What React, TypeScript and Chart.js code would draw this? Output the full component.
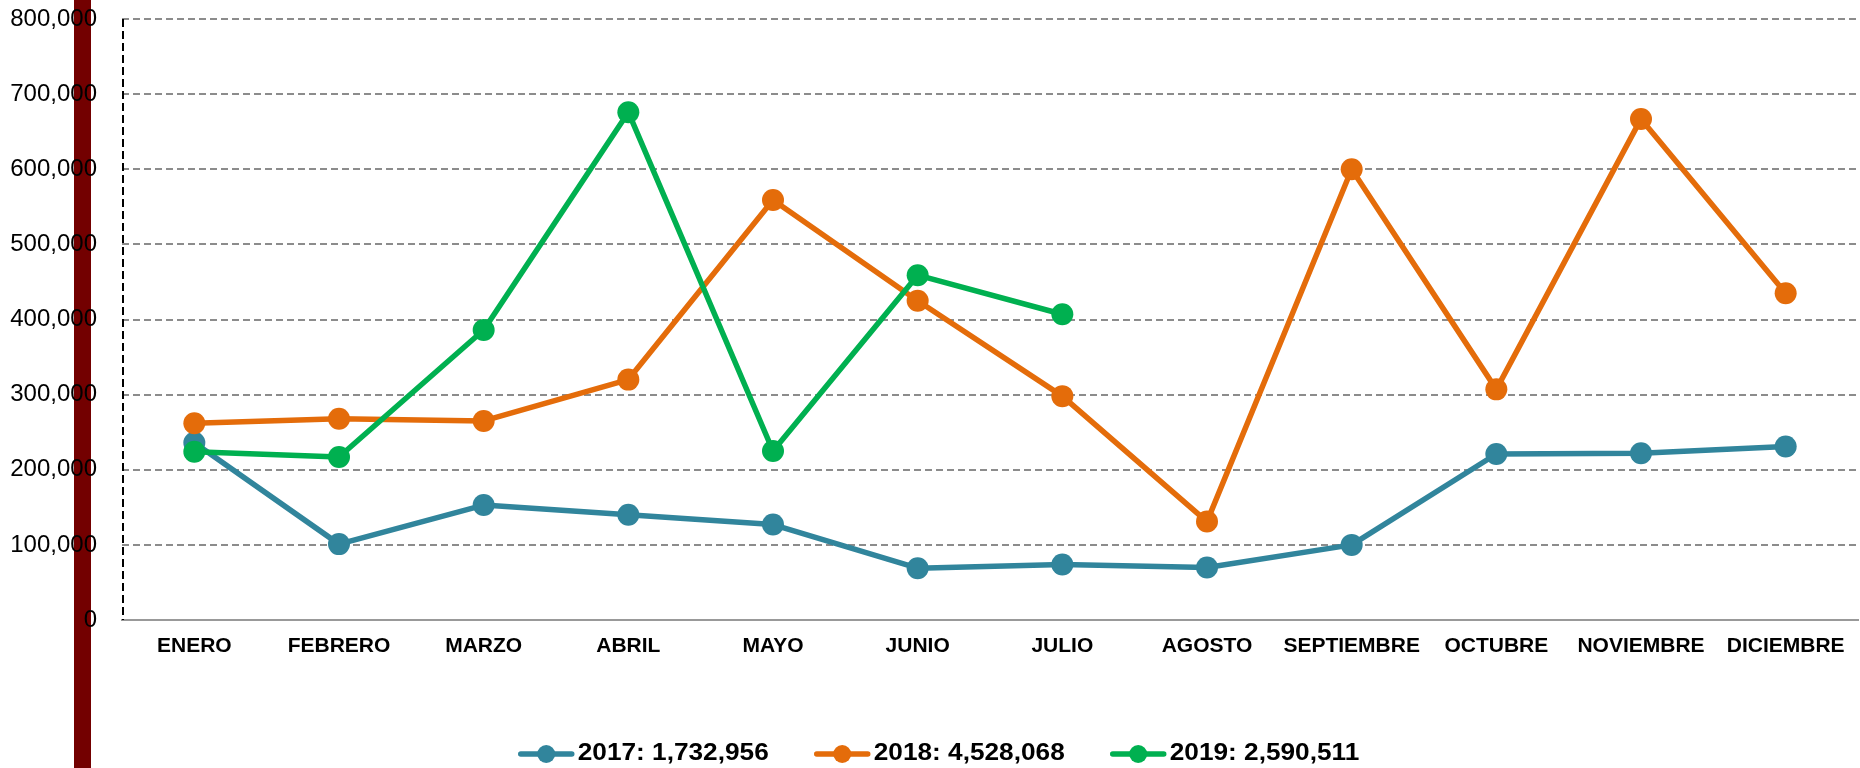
import React, { useEffect, useRef } from 'react';
import { Chart, registerables } from 'chart.js';

Chart.register(...registerables);

const MONTHS = ['ENERO', 'FEBRERO', 'MARZO', 'ABRIL', 'MAYO', 'JUNIO', 'JULIO', 'AGOSTO', 'SEPTIEMBRE', 'OCTUBRE', 'NOVIEMBRE', 'DICIEMBRE'];

const SERIES_NAMES = ['2017', '2018', '2019'];
const SERIES_TOTALS = ['1,732,956', '4,528,068', '2,590,511'];
const SERIES_COLORS = ['#31859C', '#E46C0A', '#00B050'];

const VALUES_2017 = [236000, 101000, 153000, 140000, 127000, 69000, 74000, 70000, 100000, 221000, 222000, 231000];
const VALUES_2018 = [262000, 268000, 265000, 320000, 559000, 425000, 298000, 131000, 600000, 307000, 667000, 435000];
const VALUES_2019 = [224000, 217000, 386000, 676000, 225000, 459000, 407000];

const Y_MIN = 0;
const Y_MAX = 800000;
const Y_STEP = 100000;

const SERIES_VALUES = [VALUES_2017, VALUES_2018, VALUES_2019];

const FONT = '"Liberation Sans", Arial, sans-serif';

const sideBarPlugin = {
  id: 'sideBar',
  beforeDraw(chart: any) {
    const ctx = chart.ctx;
    ctx.save();
    ctx.fillStyle = '#730000';
    ctx.fillRect(74, 0, 17, chart.height);
    ctx.restore();
  },
};

const yAxisLinePlugin = {
  id: 'yAxisLine',
  afterDatasetsDraw(chart: any) {
    const { ctx, chartArea } = chart;
    ctx.save();
    ctx.strokeStyle = '#000';
    ctx.lineWidth = 2;
    ctx.setLineDash([8, 4]);
    ctx.beginPath();
    ctx.moveTo(chartArea.left + 1, chartArea.top);
    ctx.lineTo(chartArea.left + 1, chartArea.bottom);
    ctx.stroke();
    ctx.restore();
  },
};

const legendPlugin = {
  id: 'customLegend',
  afterDraw(chart: any) {
    const ctx = chart.ctx;
    ctx.save();
    const sx = 1.14;
    ctx.font = `bold 23px ${FONT}`;
    const labels = SERIES_NAMES.map((n, i) => `${n}: ${SERIES_TOTALS[i]}`);
    const widths = labels.map((l) => ctx.measureText(l).width * sx);
    const lineW = 55;
    const gapText = 4;
    const gapItem = 46;
    const total = widths.reduce((a, w) => a + lineW + gapText + w, 0) + gapItem * (labels.length - 1);
    let x = 939 - total / 2;
    const y = 754;
    labels.forEach((l, i) => {
      ctx.strokeStyle = SERIES_COLORS[i];
      ctx.lineWidth = 5.5;
      ctx.lineCap = 'round';
      ctx.beginPath();
      ctx.moveTo(x + 2, y);
      ctx.lineTo(x + lineW - 2, y);
      ctx.stroke();
      ctx.fillStyle = SERIES_COLORS[i];
      ctx.beginPath();
      ctx.arc(x + lineW / 2, y, 9, 0, Math.PI * 2);
      ctx.fill();
      ctx.save();
      ctx.translate(x + lineW + gapText, y);
      ctx.scale(sx, 1);
      ctx.fillStyle = '#000';
      ctx.textAlign = 'left';
      ctx.textBaseline = 'middle';
      ctx.fillText(l, 0, 0);
      ctx.restore();
      x += lineW + gapText + widths[i] + gapItem;
    });
    ctx.restore();
  },
};

export default function App() {
  const canvasRef = useRef<HTMLCanvasElement | null>(null);

  useEffect(() => {
    const canvas = canvasRef.current;
    if (!canvas) return;

    const lineSets = SERIES_VALUES.map((vals, i) => ({
      label: SERIES_NAMES[i] + ' line',
      data: vals,
      borderColor: SERIES_COLORS[i],
      backgroundColor: SERIES_COLORS[i],
      borderWidth: 5.5,
      pointRadius: 0,
      pointHoverRadius: 0,
      tension: 0,
      fill: false,
      clip: false,
      borderCapStyle: 'round' as const,
      borderJoinStyle: 'round' as const,
      order: 10 - i,
    }));
    const pointSets = SERIES_VALUES.map((vals, i) => ({
      label: SERIES_NAMES[i],
      data: vals,
      borderColor: SERIES_COLORS[i],
      backgroundColor: SERIES_COLORS[i],
      pointBackgroundColor: SERIES_COLORS[i],
      pointBorderWidth: 0,
      pointRadius: 11,
      showLine: false,
      clip: false,
      order: 5 - i,
    }));

    const chart = new Chart(canvas, {
      type: 'line',
      data: {
        labels: MONTHS,
        datasets: [...lineSets, ...pointSets] as any,
      },
      options: {
        animation: false,
        responsive: false,
        devicePixelRatio: 1,
        layout: { autoPadding: false, padding: { top: 19, right: 2, left: 0, bottom: 0 } },
        plugins: {
          legend: { display: false },
          tooltip: { enabled: false },
        },
        scales: {
          x: {
            type: 'category',
            offset: true,
            grid: { display: false, drawTicks: false, tickLength: 0 },
            border: { display: true, color: '#999999', width: 2 },
            ticks: {
              autoSkip: false,
              maxRotation: 0,
              minRotation: 0,
              padding: 14,
              color: '#000',
              font: { family: FONT, size: 21, weight: 'bold' },
            },
            afterFit: (s: any) => {
              s.height = 148;
              s.paddingLeft = 0;
              s.paddingRight = 0;
            },
          },
          y: {
            min: Y_MIN,
            max: Y_MAX,
            grid: { color: '#8c8c8c', lineWidth: 2, drawTicks: false, tickLength: 0 },
            border: { display: false, dash: [7, 4] },
            ticks: {
              stepSize: Y_STEP,
              padding: 25,
              color: '#000',
              font: { family: FONT, size: 24 },
              callback: (v: any) => Number(v).toLocaleString('en-US'),
            },
            afterFit: (s: any) => {
              s.width = 122;
              s.paddingTop = 0;
              s.paddingBottom = 0;
            },
          },
        },
      } as any,
      plugins: [sideBarPlugin, yAxisLinePlugin, legendPlugin],
    });

    return () => chart.destroy();
  }, []);

  return (
    <div style={{ position: 'absolute', left: 0, top: 0, width: 1860, height: 768, background: '#fff' }}>
      <canvas ref={canvasRef} width={1860} height={768} style={{ display: 'block' }} />
    </div>
  );
}
